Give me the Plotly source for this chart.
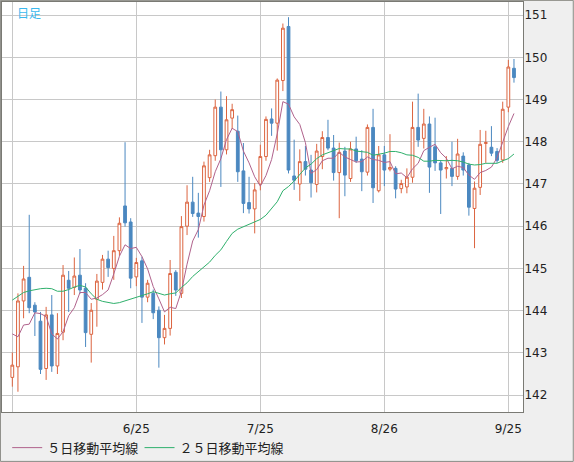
import plotly.graph_objs as go

# daily candles, 2025/05/26 - 2025/09/26
dates = ['2025-05-26', '2025-05-27', '2025-05-28', '2025-05-29', '2025-05-30',
         '2025-06-02', '2025-06-03', '2025-06-04', '2025-06-05', '2025-06-06',
         '2025-06-09', '2025-06-10', '2025-06-11', '2025-06-12', '2025-06-13',
         '2025-06-16', '2025-06-17', '2025-06-18', '2025-06-19', '2025-06-20',
         '2025-06-23', '2025-06-24', '2025-06-25', '2025-06-26', '2025-06-27',
         '2025-06-30', '2025-07-01', '2025-07-02', '2025-07-03', '2025-07-04',
         '2025-07-07', '2025-07-08', '2025-07-09', '2025-07-10', '2025-07-11',
         '2025-07-14', '2025-07-15', '2025-07-16', '2025-07-17', '2025-07-18',
         '2025-07-21', '2025-07-22', '2025-07-23', '2025-07-24', '2025-07-25',
         '2025-07-28', '2025-07-29', '2025-07-30', '2025-07-31', '2025-08-01',
         '2025-08-04', '2025-08-05', '2025-08-06', '2025-08-07', '2025-08-08',
         '2025-08-11', '2025-08-12', '2025-08-13', '2025-08-14', '2025-08-15',
         '2025-08-18', '2025-08-19', '2025-08-20', '2025-08-21', '2025-08-22',
         '2025-08-25', '2025-08-26', '2025-08-27', '2025-08-28', '2025-08-29',
         '2025-09-01', '2025-09-02', '2025-09-03', '2025-09-04', '2025-09-05',
         '2025-09-08', '2025-09-09', '2025-09-10', '2025-09-11', '2025-09-12',
         '2025-09-15', '2025-09-16', '2025-09-17', '2025-09-18', '2025-09-19',
         '2025-09-22', '2025-09-23', '2025-09-24', '2025-09-25', '2025-09-26']

opens = [142.42, 142.67, 144.23, 144.79, 144.13, 143.75, 142.63, 143.90, 142.69, 143.49,
         144.72, 144.55, 144.84, 144.53, 143.44, 144.27, 144.67, 145.22, 145.00, 145.42,
         146.48, 146.10, 144.80, 145.18, 144.32, 144.41, 144.01, 143.36, 143.58, 144.91,
         144.41, 146.00, 146.57, 146.31, 146.23, 147.15, 147.67, 148.82, 147.81, 148.56,
         148.25, 147.31, 146.56, 146.41, 147.00, 147.65, 148.54, 148.44, 149.45, 150.73,
         147.19, 147.00, 147.53, 147.33, 146.99, 147.65, 148.10, 147.85, 147.27, 147.78,
         147.13, 147.83, 147.59, 147.28, 148.34, 146.84, 147.69, 147.35, 147.37, 146.89,
         146.93, 147.16, 148.34, 148.08, 148.42, 147.88, 147.50, 147.36, 147.37, 147.18,
         147.66, 147.45, 146.42, 146.92, 147.96, 147.87, 147.77, 147.57, 148.82, 149.74]

highs = [143.01, 144.41, 145.06, 146.27, 144.20, 143.97, 144.09, 144.37, 143.94, 145.08,
         144.94, 145.26, 145.46, 144.65, 144.18, 144.87, 145.32, 145.42, 145.77, 146.21,
         147.99, 146.19, 145.25, 145.28, 144.73, 144.50, 144.10, 143.90, 145.20, 144.96,
         146.24, 146.97, 147.17, 146.79, 147.53, 147.81, 149.00, 149.19, 149.08, 148.90,
         148.62, 147.97, 147.17, 147.02, 147.93, 148.60, 148.79, 149.50, 150.80, 150.95,
         148.05, 147.82, 147.90, 147.69, 147.95, 148.25, 148.52, 148.16, 147.98, 147.88,
         148.00, 148.12, 147.80, 148.41, 148.78, 147.90, 147.90, 148.18, 147.42, 147.10,
         147.37, 148.95, 149.14, 148.78, 148.60, 148.57, 147.55, 147.66, 148.00, 148.07,
         147.75, 147.50, 147.06, 148.28, 148.26, 148.37, 147.85, 148.95, 149.94, 149.96]

lows = [142.20, 142.08, 143.82, 143.94, 143.40, 142.50, 142.36, 142.55, 142.50, 143.30,
        143.97, 144.37, 144.40, 143.14, 142.77, 143.62, 144.50, 144.80, 144.73, 145.30,
        145.99, 144.53, 144.58, 143.71, 144.20, 143.80, 142.65, 143.20, 143.41, 144.35,
        144.30, 145.79, 146.22, 145.73, 146.11, 147.05, 147.55, 146.93, 147.70, 148.30,
        147.05, 146.31, 146.30, 145.83, 146.85, 147.55, 148.14, 147.79, 149.20, 147.25,
        146.86, 146.60, 147.20, 146.68, 146.80, 147.35, 147.80, 147.08, 146.19, 146.71,
        147.05, 147.50, 146.83, 147.20, 146.55, 146.80, 146.95, 147.30, 146.66, 146.78,
        146.78, 147.03, 147.88, 147.84, 146.79, 147.31, 146.29, 147.13, 146.95, 147.10,
        147.20, 146.25, 145.48, 146.74, 147.50, 147.66, 147.50, 147.50, 148.70, 149.40]

closes = [142.71, 144.23, 144.75, 144.07, 143.97, 142.61, 143.90, 142.69, 143.46, 144.84,
          144.53, 144.82, 144.49, 143.48, 144.01, 144.70, 145.22, 145.02, 145.42, 146.07,
          146.08, 144.77, 145.14, 144.32, 144.65, 143.95, 143.36, 143.58, 144.88, 144.49,
          145.99, 146.57, 146.30, 146.23, 147.43, 147.69, 148.82, 147.81, 148.52, 148.76,
          147.29, 146.54, 146.41, 146.86, 147.65, 148.53, 148.44, 149.46, 150.69, 147.33,
          147.09, 147.53, 147.35, 147.03, 147.78, 148.10, 147.85, 147.27, 147.75, 147.21,
          147.83, 147.55, 147.29, 148.34, 146.91, 147.69, 147.33, 147.39, 146.88, 147.01,
          147.16, 148.34, 148.04, 148.42, 147.40, 147.50, 147.33, 147.39, 147.18, 147.71,
          147.33, 146.45, 146.90, 147.94, 147.98, 147.73, 147.56, 148.77, 149.77, 149.52]

ma5 = [143.45, 143.38, 143.66, 143.68, 143.95, 143.93, 143.86, 143.45, 143.33, 143.50,
       143.88, 144.07, 144.43, 144.43, 144.27, 144.30, 144.38, 144.49, 144.87, 145.29,
       145.56, 145.47, 145.50, 145.28, 144.99, 144.57, 144.28, 143.97, 144.08, 144.05,
       144.46, 145.10, 145.65, 145.92, 146.50, 146.84, 147.29, 147.60, 148.05, 148.32,
       148.24, 147.78, 147.50, 147.17, 146.95, 147.20, 147.58, 148.19, 148.95, 148.89,
       148.59, 148.41, 147.98, 147.25, 147.34, 147.55, 147.61, 147.61, 147.75, 147.64,
       147.58, 147.52, 147.53, 147.64, 147.58, 147.56, 147.51, 147.53, 147.24, 147.26,
       147.15, 147.36, 147.49, 147.79, 147.87, 147.94, 147.74, 147.61, 147.36, 147.42,
       147.39, 147.21, 147.11, 147.27, 147.32, 147.40, 147.62, 148.00, 148.36, 148.67]

ma25 = [144.25, 144.33, 144.43, 144.47, 144.50, 144.52, 144.53, 144.52, 144.46, 144.46,
        144.50, 144.56, 144.60, 144.56, 144.40, 144.27, 144.22, 144.19, 144.17, 144.19,
        144.23, 144.27, 144.31, 144.36, 144.40, 144.45, 144.41, 144.37, 144.40, 144.42,
        144.55, 144.66, 144.81, 144.92, 145.02, 145.15, 145.31, 145.44, 145.64, 145.83,
        145.93, 145.99, 146.04, 146.10, 146.16, 146.26, 146.41, 146.58, 146.84, 146.94,
        147.07, 147.23, 147.38, 147.47, 147.60, 147.69, 147.74, 147.78, 147.84, 147.83,
        147.83, 147.78, 147.76, 147.75, 147.68, 147.70, 147.73, 147.77, 147.77, 147.74,
        147.69, 147.68, 147.63, 147.54, 147.54, 147.56, 147.55, 147.55, 147.56, 147.55,
        147.52, 147.47, 147.45, 147.46, 147.49, 147.49, 147.49, 147.55, 147.60, 147.71]

grid_dates = ['2025-05-26', '2025-06-25', '2025-07-25', '2025-08-26', '2025-09-25']
grid_labels = ['', '6/25', '7/25', '8/26', '9/25']
price_ticks = [142, 143, 144, 145, 146, 147, 148, 149, 150, 151]

UP = '#dc6540'
DOWN = '#4b88c0'

trace0 = go.Candlestick(x = dates,
                        open = opens,
                        high = highs,
                        low = lows,
                        close = closes,
                        increasing = dict(line = dict(color = UP, width = 1), fillcolor = 'white'),
                        decreasing = dict(line = dict(color = DOWN, width = 1), fillcolor = DOWN),
                        whiskerwidth = 0,
                        showlegend = False,
                        hoverinfo = 'skip'
                        )

trace1 = go.Scatter(x = dates,
                    y = ma5,
                    mode = 'lines',
                    name = '５日移動平均線',
                    line = dict(color = '#b0628c', width = 1),
                    legend = 'legend'
                    )

trace2 = go.Scatter(x = dates,
                    y = ma25,
                    mode = 'lines',
                    name = '２５日移動平均線',
                    line = dict(color = '#2fb06c', width = 1),
                    legend = 'legend2'
                    )

data = [trace0, trace1, trace2]

legend_font = dict(family = 'Noto Sans CJK JP', size = 13, color = '#222222')

layout = go.Layout(width = 574, height = 462,
                   # fixed margins: the legends below the plot must not shrink it
                   margin = dict(l = 2, r = 51, t = 2, b = 50, autoexpand = False),
                   paper_bgcolor = '#efefef',
                   plot_bgcolor = 'white',
                   font = dict(family = 'DejaVu Sans', size = 12, color = '#222222'),
                   xaxis = dict(type = 'category',
                                range = [-1.83, 90.6],
                                tickvals = grid_dates,
                                ticktext = grid_labels,
                                showgrid = True,
                                gridcolor = '#c8c8c8',
                                gridwidth = 1,
                                ticks = '',
                                ticklabelstandoff = 6,
                                showline = True,
                                mirror = True,
                                linecolor = '#7a7a74',
                                linewidth = 1,
                                rangeslider = dict(visible = False),
                                fixedrange = True),
                   yaxis = dict(side = 'right',
                                range = [141.60, 151.31],
                                tickvals = price_ticks,
                                showgrid = True,
                                gridcolor = '#c8c8c8',
                                gridwidth = 1,
                                ticks = '',
                                ticklabelstandoff = -2,
                                zeroline = False,
                                showline = True,
                                mirror = True,
                                linecolor = '#7a7a74',
                                linewidth = 1,
                                fixedrange = True),
                   showlegend = True,
                   legend = dict(orientation = 'h',
                                 x = 0.01, y = -0.087,
                                 xanchor = 'left', yanchor = 'middle',
                                 bgcolor = 'rgba(0,0,0,0)',
                                 font = legend_font),
                   legend2 = dict(orientation = 'h',
                                  x = 0.264, y = -0.087,
                                  xanchor = 'left', yanchor = 'middle',
                                  bgcolor = 'rgba(0,0,0,0)',
                                  font = legend_font),
                   annotations = [dict(text = '日足', xref = 'paper', yref = 'paper',
                                       x = 0.024, y = 1.0, xanchor = 'left', yanchor = 'top',
                                       showarrow = False,
                                       font = dict(family = 'Noto Sans CJK JP', size = 12, color = '#3bb8ee'))],
                   shapes = [dict(type = 'rect', xref = 'paper', yref = 'paper',
                                  x0 = -0.003, x1 = 1.0965, y0 = -0.1205, y1 = 1.004,
                                  line = dict(color = '#8a8a84', width = 1))]
                   )

fig = go.Figure(data = data, layout = layout)

# page body margin off so the figure sits at the window corner
fig.write_html("out.html",
               config = {'displayModeBar': False},
               post_script = "document.body.style.margin = '0';")
